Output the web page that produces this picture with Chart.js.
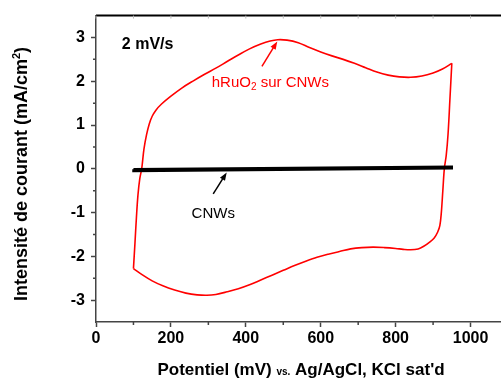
<!DOCTYPE html>
<html>
<head>
<meta charset="utf-8">
<script src="https://cdn.jsdelivr.net/npm/chart.js@4.4.0/dist/chart.umd.min.js"></script>
<style>
  html, body { margin: 0; padding: 0; background: #fff; overflow: hidden; }
  #wrap { width: 501px; height: 381px; overflow: hidden; }
  canvas { display: block; }
</style>
</head>
<body>
<div id="wrap"><canvas id="cv" width="512" height="381" style="width:512px;height:381px"></canvas></div>
<script>
// hRuO2 on CNWs, cyclic voltammogram at 2 mV/s
// anodic sweep 100 -> 950 mV
const ruoUpX = [100, 104, 108, 112, 117, 122, 128, 135, 142, 150, 160, 175, 200, 230, 260, 290, 320, 350, 380, 410,
  440, 465, 485, 510, 540, 570, 600, 630, 660, 690, 720, 750, 780, 810, 840, 870, 900, 925, 950];
const ruoUpY = [-2.28, -1.70, -1.10, -0.60, -0.22, 0.00, 0.45, 0.78, 1.02, 1.20, 1.34, 1.48, 1.66, 1.85, 2.01, 2.16, 2.30, 2.45, 2.60, 2.74,
  2.85, 2.92, 2.95, 2.94, 2.88, 2.77, 2.67, 2.58, 2.50, 2.41, 2.31, 2.21, 2.14, 2.10, 2.09, 2.12, 2.19, 2.28, 2.41];
// cathodic sweep 950 -> 100 mV
const ruoDownX = [950, 945, 940, 935, 930, 926, 922, 918, 912, 903, 890, 875, 860, 840, 820, 800, 770, 740, 710, 680,
  650, 620, 590, 560, 530, 500, 470, 440, 410, 380, 350, 320, 296, 270, 240, 210, 180, 150, 125, 100];
const ruoDownY = [2.41, 1.60, 0.80, 0.30, 0.00, -0.50, -1.00, -1.30, -1.45, -1.58, -1.68, -1.77, -1.83, -1.85, -1.84, -1.82, -1.80, -1.79, -1.80, -1.83,
  -1.89, -1.95, -2.02, -2.11, -2.21, -2.32, -2.43, -2.54, -2.65, -2.74, -2.81, -2.87, -2.89, -2.88, -2.84, -2.77, -2.68, -2.56, -2.43, -2.28];

// bare CNWs, almost flat loop
const cnwX = [100, 950, 950, 100, 100];
const cnwY = [-0.01, 0.05, 0.01, -0.05, -0.01];

const xMajor = [0, 200, 400, 600, 800, 1000];
const xMinor = [100, 300, 500, 700, 900, 1100];
const yMajor = [-3, -2, -1, 0, 1, 2, 3];
const yMinor = [-2.5, -1.5, -0.5, 0.5, 1.5, 2.5];

// annotation anchors in data units
const rateLabel = { x: 69, y: 2.83, text: "2 mV/s" };
const ruoLabel = { x: 309, y: 1.96 };
const ruoArrow = { x1: 443, y1: 2.34, x2: 484, y2: 2.91 };
const cnwLabel = { x: 313, y: -1.03, text: "CNWs" };
const cnwArrow = { x1: 313, y1: -0.575, x2: 349, y2: -0.084 };

const FONT = "'Liberation Sans', Arial, Helvetica, sans-serif";
const AXIS = "#444";
const RED = "#ff0000";

function toPoints(xs, ys) {
  return xs.map((x, i) => ({ x: x, y: ys[i] }));
}

// draws a row of text pieces with own fonts / vertical shifts
function drawRuns(ctx, runs, x, y, align) {
  let total = 0;
  runs.forEach(r => { ctx.font = r.font; total += ctx.measureText(r.text).width; });
  let cx = align === "left" ? x : x - total / 2;
  runs.forEach(r => {
    ctx.font = r.font;
    ctx.fillText(r.text, cx, y + (r.dy || 0));
    cx += ctx.measureText(r.text).width;
  });
}

function arrow(ctx, x1, y1, x2, y2, color) {
  const a = Math.atan2(y2 - y1, x2 - x1);
  const len = 8, half = 3;
  ctx.strokeStyle = color;
  ctx.fillStyle = color;
  ctx.lineWidth = 1.5;
  ctx.beginPath();
  ctx.moveTo(x1, y1);
  ctx.lineTo(x2 - Math.cos(a) * len * 0.7, y2 - Math.sin(a) * len * 0.7);
  ctx.stroke();
  ctx.beginPath();
  ctx.moveTo(x2, y2);
  ctx.lineTo(x2 - Math.cos(a) * len - Math.sin(a) * half, y2 - Math.sin(a) * len + Math.cos(a) * half);
  ctx.lineTo(x2 - Math.cos(a) * len + Math.sin(a) * half, y2 - Math.sin(a) * len - Math.cos(a) * half);
  ctx.closePath();
  ctx.fill();
}

const extras = {
  id: "extras",
  afterDraw(chart) {
    const ctx = chart.ctx;
    const xs = chart.scales.x, ys = chart.scales.y;
    const area = chart.chartArea;
    const px = v => xs.getPixelForValue(v);
    const py = v => ys.getPixelForValue(v);
    ctx.save();

    // frame top / right
    ctx.strokeStyle = "#000";
    ctx.lineWidth = 2;
    ctx.beginPath();
    ctx.moveTo(area.left, area.top);
    ctx.lineTo(area.right, area.top);
    ctx.lineTo(area.right, area.bottom);
    ctx.stroke();

    // minor ticks
    ctx.strokeStyle = AXIS;
    ctx.lineWidth = 1.5;
    ctx.beginPath();
    xMinor.forEach(v => { ctx.moveTo(px(v), area.bottom); ctx.lineTo(px(v), area.bottom + 3); });
    yMinor.forEach(v => { ctx.moveTo(area.left, py(v)); ctx.lineTo(area.left - 3, py(v)); });
    ctx.stroke();
    // faint ticks on top frame
    ctx.strokeStyle = "#bbb";
    ctx.lineWidth = 1;
    ctx.beginPath();
    xMajor.concat(xMinor).forEach(v => { ctx.moveTo(px(v), area.top); ctx.lineTo(px(v), area.top + 3); });
    ctx.stroke();

    // annotations
    ctx.textBaseline = "middle";
    ctx.fillStyle = "#000";
    ctx.font = "bold 16px " + FONT;
    ctx.textAlign = "left";
    ctx.fillText(rateLabel.text, px(rateLabel.x), py(rateLabel.y));

    ctx.fillStyle = RED;
    drawRuns(ctx, [
      { text: "hRuO", font: "15px " + FONT },
      { text: "2", font: "10px " + FONT, dy: 4 },
      { text: " sur CNWs", font: "15px " + FONT }
    ], px(ruoLabel.x), py(ruoLabel.y), "left");
    arrow(ctx, px(ruoArrow.x1), py(ruoArrow.y1), px(ruoArrow.x2), py(ruoArrow.y2), RED);

    ctx.fillStyle = "#000";
    ctx.textAlign = "center";
    ctx.font = "15px " + FONT;
    ctx.fillText(cnwLabel.text, px(cnwLabel.x), py(cnwLabel.y));
    ctx.textAlign = "left";
    arrow(ctx, px(cnwArrow.x1), py(cnwArrow.y1), px(cnwArrow.x2), py(cnwArrow.y2), "#000");

    // axis titles
    ctx.fillStyle = "#000";
    ctx.textBaseline = "alphabetic";
    drawRuns(ctx, [
      { text: "Potentiel (mV) ", font: "bold 17px " + FONT },
      { text: "vs.", font: "bold 10px " + FONT },
      { text: " Ag/AgCl, KCl sat'd", font: "bold 17px " + FONT }
    ], 301, 375, "center");

    ctx.translate(27, 174);
    ctx.rotate(-Math.PI / 2);
    drawRuns(ctx, [
      { text: "Intensité de courant (mA/cm", font: "bold 18px " + FONT },
      { text: "2", font: "bold 11px " + FONT, dy: -7 },
      { text: ")", font: "bold 18px " + FONT }
    ], 0, 0, "center");
    ctx.restore();
  }
};

const tickFont = { family: FONT, size: 16, weight: "bold" };

new Chart(document.getElementById("cv"), {
  type: "scatter",
  data: {
    datasets: [
      {
        label: "CNWs",
        data: toPoints(cnwX, cnwY),
        showLine: true,
        borderColor: "#000",
        borderWidth: 2.4,
        pointRadius: 0,
        tension: 0
      },
      {
        label: "hRuO2 sur CNWs (anodique)",
        data: toPoints(ruoUpX, ruoUpY),
        showLine: true,
        borderColor: RED,
        borderWidth: 1.6,
        pointRadius: 0,
        tension: 0.35
      },
      {
        label: "hRuO2 sur CNWs (cathodique)",
        data: toPoints(ruoDownX, ruoDownY),
        showLine: true,
        borderColor: RED,
        borderWidth: 1.6,
        pointRadius: 0,
        tension: 0.35
      }
    ]
  },
  options: {
    responsive: false,
    animation: false,
    layout: { padding: { top: 14, right: 4, left: 0, bottom: 0 } },
    plugins: { legend: { display: false }, tooltip: { enabled: false } },
    scales: {
      x: {
        type: "linear",
        min: 0,
        max: 1100,
        afterBuildTicks: s => { s.ticks = xMajor.map(v => ({ value: v })); },
        afterFit: s => { s.height = 59; },
        ticks: { color: "#000", font: tickFont, padding: 2, maxRotation: 0, autoSkip: false, callback: v => String(v) },
        grid: { drawOnChartArea: false, tickLength: 5, tickColor: AXIS, tickWidth: 1.5 },
        border: { color: AXIS, width: 1.5 }
      },
      y: {
        type: "linear",
        min: -3.5,
        max: 3.5,
        afterBuildTicks: s => { s.ticks = yMajor.map(v => ({ value: v })); },
        afterFit: s => { s.width = 96; },
        ticks: { color: "#000", font: tickFont, padding: 6, callback: v => String(v) },
        grid: { drawOnChartArea: false, tickLength: 5, tickColor: AXIS, tickWidth: 1.5 },
        border: { color: AXIS, width: 1.5 }
      }
    }
  },
  plugins: [extras]
});
</script>
</body>
</html>
